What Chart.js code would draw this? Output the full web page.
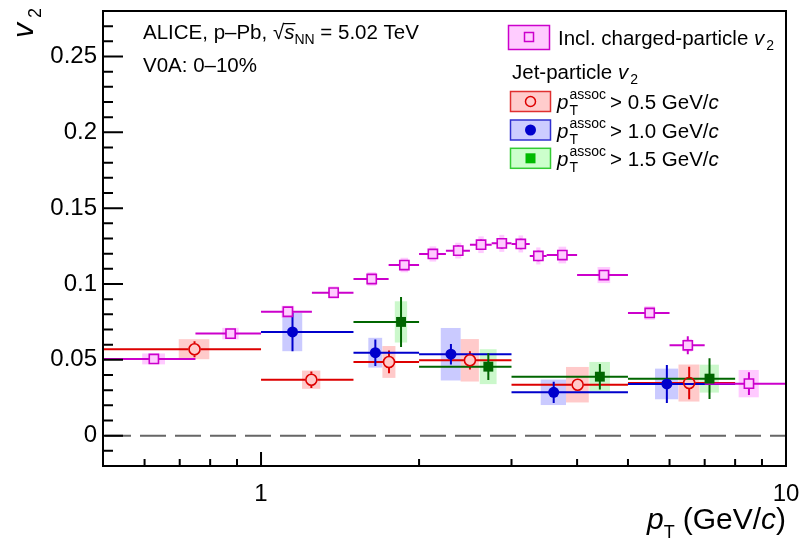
<!DOCTYPE html>
<html>
<head>
<meta charset="utf-8">
<script src="https://cdn.jsdelivr.net/npm/chart.js@4.4.0/dist/chart.umd.min.js"></script>
<style>
  html, body { margin: 0; padding: 0; background: #fff; }
  #wrap { width: 802px; height: 540px; }
</style>
</head>
<body>
<div id="wrap"><canvas id="v2chart" width="802" height="540"></canvas></div>
<script>
// inclusive charged-particle v2 (bins, values, stat and sys errors)
const inclLo = [0.5, 0.75, 1.0, 1.25, 1.5, 1.75, 2.0, 2.25, 2.5, 2.75, 3.0, 3.25, 3.5, 4.0, 5.0, 6.0, 7.0];
const inclHi = [0.75, 1.0, 1.25, 1.5, 1.75, 2.0, 2.25, 2.5, 2.75, 3.0, 3.25, 3.5, 4.0, 5.0, 6.0, 7.0, 10.0];
const inclPt = [0.625, 0.875, 1.125, 1.375, 1.625, 1.875, 2.125, 2.375, 2.625, 2.875, 3.125, 3.375, 3.75, 4.5, 5.5, 6.5, 8.5];
const inclV2 = [0.0506, 0.0673, 0.0817, 0.0943, 0.1033, 0.1125, 0.1198, 0.1220, 0.1259, 0.1268, 0.1264, 0.1185, 0.1191, 0.1059, 0.0809, 0.0596, 0.0343];
const inclStat = [0.003, 0.003, 0.003, 0.003, 0.003, 0.003, 0.0033, 0.0035, 0.0035, 0.0035, 0.0035, 0.0035, 0.0033, 0.003, 0.003, 0.006, 0.0075];
const inclSys = [0.0036, 0.0038, 0.004, 0.0042, 0.0045, 0.0048, 0.005, 0.0052, 0.0055, 0.0056, 0.0056, 0.0056, 0.0055, 0.0053, 0.0045, 0.0042, 0.009];

// jet-particle v2, pT assoc > 0.5 GeV/c
const j05Lo = [0.5, 1.0, 1.5, 2.0, 3.0, 5.0];
const j05Hi = [1.0, 1.5, 2.0, 3.0, 5.0, 8.0];
const j05Pt = [0.747, 1.247, 1.753, 2.50, 4.01, 6.54];
const j05V2 = [0.0570, 0.0369, 0.0486, 0.0497, 0.0336, 0.0347];
const j05Stat = [0.0053, 0.0054, 0.0075, 0.006, 0.004, 0.0107];
const j05Sys = [0.0066, 0.006, 0.0105, 0.014, 0.0117, 0.0122];

// jet-particle v2, pT assoc > 1.0 GeV/c
const j10Lo = [1.0, 1.5, 2.0, 3.0, 5.0];
const j10Hi = [1.5, 2.0, 3.0, 5.0, 8.0];
const j10Pt = [1.148, 1.651, 2.30, 3.61, 5.93];
const j10V2 = [0.0684, 0.0547, 0.0537, 0.0286, 0.0341];
const j10Stat = [0.0127, 0.0087, 0.0067, 0.007, 0.0125];
const j10Sys = [0.0127, 0.0098, 0.0173, 0.0084, 0.0101];

// jet-particle v2, pT assoc > 1.5 GeV/c
const j15Lo = [1.5, 2.0, 3.0, 5.0];
const j15Hi = [2.0, 3.0, 5.0, 8.0];
const j15Pt = [1.848, 2.71, 4.42, 7.15];
const j15V2 = [0.0750, 0.0455, 0.0389, 0.0376];
const j15Stat = [0.0165, 0.0088, 0.0084, 0.0134];
const j15Sys = [0.0136, 0.0115, 0.0097, 0.0092];

// axis ticks
const xTickVals = [1, 10];
const xMinorVals = [0.6, 0.7, 0.8, 0.9, 2, 3, 4, 5, 6, 7, 8, 9];
const yTickVals = [0, 0.05, 0.1, 0.15, 0.2, 0.25];

const FONT = "'Liberation Sans', Arial, Helvetica, sans-serif";
const TXT = 20.5;

const groups = [
  { lo: j05Lo, hi: j05Hi, pt: j05Pt, v2: j05V2, stat: j05Stat, sys: j05Sys,
    line: '#dd0000', box: 'rgba(255,150,150,0.5)', boxFrac: 0.2, gap: 6 },
  { lo: j10Lo, hi: j10Hi, pt: j10Pt, v2: j10V2, stat: j10Stat, sys: j10Sys,
    line: '#0000cc', box: 'rgba(150,150,255,0.5)', boxFrac: 0.2, gap: 0 },
  { lo: j15Lo, hi: j15Hi, pt: j15Pt, v2: j15V2, stat: j15Stat, sys: j15Sys,
    line: '#006600', box: 'rgba(140,240,140,0.45)', boxFrac: 0.2, gap: 0 },
  { lo: inclLo, hi: inclHi, pt: inclPt, v2: inclV2, stat: inclStat, sys: inclSys,
    line: '#cc00cc', box: 'rgba(255,150,255,0.5)', boxFrac: 0.25, gap: 0 }
];

function pts(px, py) {
  return px.map((x, i) => ({ x: x, y: py[i] }));
}

// draw a row of text pieces; piece = {t, it, s, dy, sup, sub}
function rich(ctx, x, y, parts, base, align) {
  const fontOf = (p, s) => (p.it ? 'italic ' : '') + (s || p.s || base) + 'px ' + FONT;
  const widthOf = p => {
    if (p.sup !== undefined) {
      ctx.font = fontOf(p, p.s);
      return Math.max(ctx.measureText(p.sup).width, ctx.measureText(p.sub).width);
    }
    ctx.font = fontOf(p);
    return ctx.measureText(p.t).width;
  };
  let total = 0;
  parts.forEach(p => { total += widthOf(p) + (p.pad || 0); });
  let cx = align === 'right' ? x - total : x;
  parts.forEach(p => {
    ctx.font = fontOf(p);
    if (p.sup !== undefined) {
      ctx.fillText(p.sup, cx, y - p.up);
      ctx.fillText(p.sub, cx, y + p.down);
    } else {
      ctx.fillText(p.t, cx, y + (p.dy || 0));
      if (p.over) {
        ctx.fillRect(cx - 1, y - base * 0.78, ctx.measureText(p.t).width + 2, 1.2);
      }
    }
    cx += widthOf(p) + (p.pad || 0);
  });
  return total;
}

const v2Plugin = {
  id: 'v2draw',
  beforeDatasetsDraw(chart) {
    const { ctx, chartArea: a, scales: { x, y } } = chart;
    ctx.save();
    ctx.beginPath();
    ctx.rect(a.left, a.top, a.right - a.left, a.bottom - a.top);
    ctx.clip();

    // zero line
    ctx.strokeStyle = '#666666';
    ctx.lineWidth = 2;
    ctx.setLineDash([26, 9]);
    ctx.beginPath();
    ctx.moveTo(a.left + 2, y.getPixelForValue(0));
    ctx.lineTo(a.right, y.getPixelForValue(0));
    ctx.stroke();
    ctx.setLineDash([]);

    // systematic boxes
    groups.forEach(g => {
      ctx.fillStyle = g.box;
      g.pt.forEach((p, i) => {
        const hw = g.boxFrac * (g.hi[i] - g.lo[i]) / 2;
        const x0 = x.getPixelForValue(p - hw), x1 = x.getPixelForValue(p + hw);
        const y0 = y.getPixelForValue(g.v2[i] + g.sys[i]), y1 = y.getPixelForValue(g.v2[i] - g.sys[i]);
        ctx.fillRect(x0, y0, x1 - x0, y1 - y0);
      });
    });

    // bin widths and statistical errors
    groups.forEach(g => {
      ctx.strokeStyle = g.line;
      ctx.lineWidth = 2;
      g.pt.forEach((p, i) => {
        const px = x.getPixelForValue(p), py = y.getPixelForValue(g.v2[i]);
        const xl = x.getPixelForValue(g.lo[i]), xr = x.getPixelForValue(g.hi[i]);
        const yt = y.getPixelForValue(g.v2[i] + g.stat[i]), yb = y.getPixelForValue(g.v2[i] - g.stat[i]);
        ctx.beginPath();
        ctx.moveTo(xl, py); ctx.lineTo(px - g.gap, py);
        ctx.moveTo(px + g.gap, py); ctx.lineTo(xr, py);
        if (py - yt > g.gap) { ctx.moveTo(px, yt); ctx.lineTo(px, py - g.gap); }
        if (yb - py > g.gap) { ctx.moveTo(px, py + g.gap); ctx.lineTo(px, yb); }
        ctx.stroke();
      });
    });
    ctx.restore();
  },
  afterDraw(chart) {
    const { ctx, chartArea: a, scales: { x, y } } = chart;
    ctx.save();
    ctx.strokeStyle = '#000';
    ctx.fillStyle = '#000';
    ctx.lineWidth = 2;

    // ticks inside the frame
    ctx.beginPath();
    for (let i = -2; i <= 28; i++) {
      const py = y.getPixelForValue(i / 100);
      const len = i % 5 === 0 ? 20 : 10;
      ctx.moveTo(a.left, py); ctx.lineTo(a.left + len, py);
    }
    xMinorVals.forEach(v => {
      const px = x.getPixelForValue(v);
      ctx.moveTo(px, a.bottom); ctx.lineTo(px, a.bottom - 7);
    });
    xTickVals.forEach(v => {
      const px = x.getPixelForValue(v);
      ctx.moveTo(px, a.bottom); ctx.lineTo(px, a.bottom - 14);
    });
    ctx.stroke();
    ctx.strokeRect(a.left, a.top, a.right - a.left, a.bottom - a.top);

    // axis titles
    ctx.textBaseline = 'alphabetic';
    rich(ctx, a.right, 529, [
      { t: 'p', it: true }, { t: 'T', s: 18, dy: 9, pad: 8 }, { t: '(GeV/' }, { t: 'c', it: true }, { t: ')' }
    ], 30, 'right');
    ctx.save();
    ctx.translate(33, 8);
    ctx.rotate(-Math.PI / 2);
    rich(ctx, 0, 0, [{ t: 'v', it: true, pad: 5 }, { t: '2', s: 18, dy: 8 }], 30, 'right');
    ctx.restore();

    // caption
    rich(ctx, 143, 39, [
      { t: 'ALICE, p\u2013Pb, ' }, { t: '\u221A' }, { t: 's', it: true, over: true },
      { t: 'NN', s: 14, dy: 5 }, { t: ' = 5.02 TeV' }
    ], TXT);
    rich(ctx, 143, 72, [{ t: 'V0A: 0\u201310%' }], TXT);

    // legend
    const leg = [
      { y: 101.5, line: '#dd0000', edge: '#e03030', fill: '#ffcccc', label: '0.5' },
      { y: 130, line: '#0000cc', edge: '#3030d0', fill: '#ccccff', label: '1.0' },
      { y: 158.3, line: '#00bb00', edge: '#33cc33', fill: '#ccffcc', label: '1.5' }
    ];
    ctx.lineWidth = 1.5;
    ctx.fillStyle = '#ffccff';
    ctx.strokeStyle = '#cc00cc';
    ctx.fillRect(508.5, 25.5, 41, 24);
    ctx.strokeRect(508.5, 25.5, 41, 24);
    ctx.strokeRect(524.5, 32.5, 9, 9);
    ctx.fillStyle = '#000';
    rich(ctx, 558, 45, [{ t: 'Incl. charged-particle ' }, { t: 'v', it: true, pad: 2 }, { t: '2', s: 14, dy: 5 }], TXT);
    rich(ctx, 512, 79, [{ t: 'Jet-particle ' }, { t: 'v', it: true, pad: 2 }, { t: '2', s: 14, dy: 5 }], TXT);
    leg.forEach((r, k) => {
      ctx.fillStyle = r.fill;
      ctx.strokeStyle = r.edge;
      ctx.fillRect(510.5, r.y - 10, 40, 20);
      ctx.strokeRect(510.5, r.y - 10, 40, 20);
      ctx.fillStyle = r.line;
      ctx.strokeStyle = r.line;
      if (k === 0) {
        ctx.beginPath(); ctx.arc(530.5, r.y, 5, 0, 2 * Math.PI); ctx.stroke();
      } else if (k === 1) {
        ctx.beginPath(); ctx.arc(530.5, r.y, 5.5, 0, 2 * Math.PI); ctx.fill();
      } else {
        ctx.fillRect(525.5, r.y - 5, 10, 10);
      }
      ctx.fillStyle = '#000';
      rich(ctx, 557, r.y + 7.5, [
        { t: 'p', it: true, pad: 1 }, { sup: 'assoc', sub: 'T', s: 14, up: 10, down: 6, pad: 4 },
        { t: '> ' + r.label + ' GeV/' }, { t: 'c', it: true }
      ], TXT);
    });
    ctx.restore();
  }
};

const ctx = document.getElementById('v2chart').getContext('2d');
new Chart(ctx, {
  type: 'scatter',
  data: {
    datasets: [
      { data: pts(inclPt, inclV2), pointStyle: 'rect', pointRadius: 6.5, borderWidth: 1.6,
        borderColor: '#cc00cc', backgroundColor: '#ffccff', order: 1 },
      { data: pts(j05Pt, j05V2), pointStyle: 'circle', pointRadius: 5.5, borderWidth: 1.6,
        borderColor: '#dd0000', backgroundColor: 'rgba(0,0,0,0)', order: 2 },
      { data: pts(j10Pt, j10V2), pointStyle: 'circle', pointRadius: 5.5, borderWidth: 0,
        borderColor: '#0000cc', backgroundColor: '#0000cc', order: 3 },
      { data: pts(j15Pt, j15V2), pointStyle: 'rect', pointRadius: 7, borderWidth: 0,
        borderColor: '#006600', backgroundColor: '#006600', order: 0 }
    ]
  },
  options: {
    responsive: false,
    animation: false,
    layout: { padding: { left: 0, right: 16, top: 11, bottom: 0 } },
    plugins: { legend: { display: false }, tooltip: { enabled: false } },
    scales: {
      x: {
        type: 'logarithmic',
        min: 0.5,
        max: 10,
        grid: { display: false, drawTicks: false },
        border: { display: false },
        afterBuildTicks: s => { s.ticks = xTickVals.map(v => ({ value: v, major: true })); },
        afterFit: s => { s.height = 74; s.paddingLeft = 0; s.paddingRight = 0; },
        ticks: {
          autoSkip: false, maxRotation: 0, padding: 14, color: '#000',
          font: { family: FONT, size: 24 },
          callback: v => String(v)
        }
      },
      y: {
        min: -0.02,
        max: 0.28,
        grid: { display: false, drawTicks: false },
        border: { display: false },
        afterBuildTicks: s => { s.ticks = yTickVals.map(v => ({ value: v })); },
        afterFit: s => { s.width = 103; s.paddingTop = 0; s.paddingBottom = 0; },
        ticks: {
          padding: 6, color: '#000',
          font: { family: FONT, size: 24 },
          callback: v => String(+v.toFixed(2))
        }
      }
    }
  },
  plugins: [v2Plugin]
});
</script>
</body>
</html>
